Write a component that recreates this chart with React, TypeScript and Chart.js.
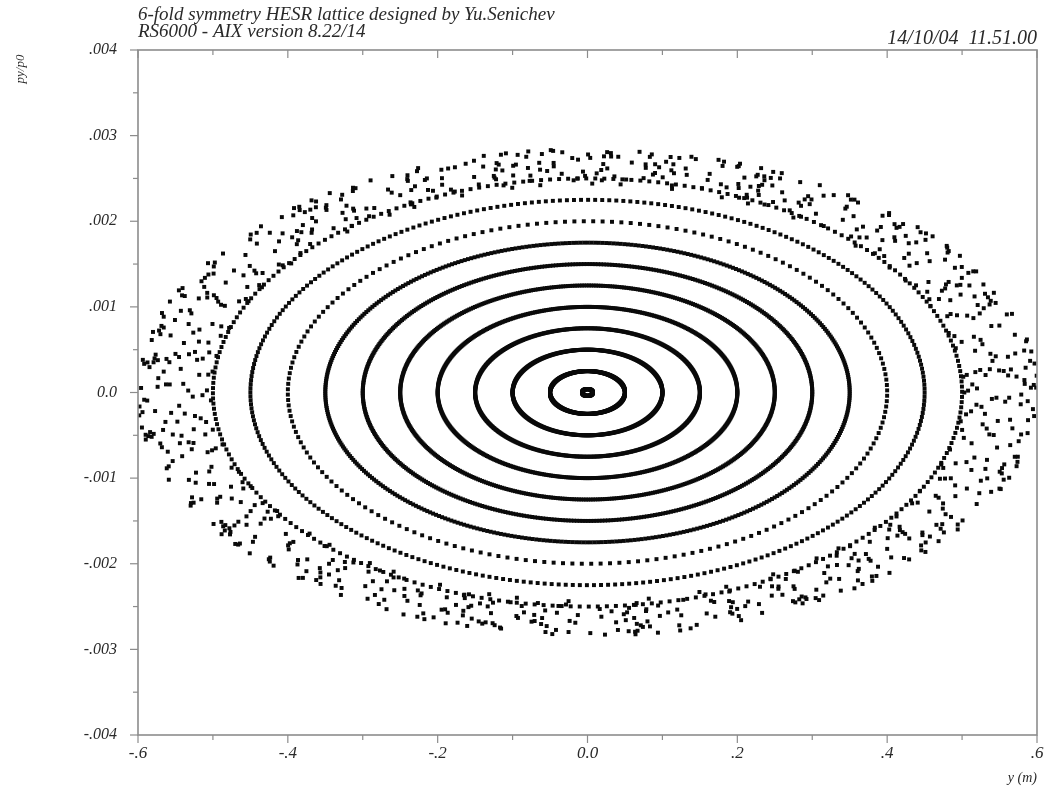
import React, { useEffect, useRef } from "react";
import { Chart, registerables } from "chart.js";

Chart.register(...registerables);

// ---- text ----
const titleLines = [
  "6-fold symmetry HESR lattice designed by Yu.Senichev",
  "RS6000 - AIX version 8.22/14",
];
const dateLabel = "14/10/04  11.51.00";
const xTitle = "y (m)";
const yTitle = "py/p0";

// ---- axes ----
const xMin = -0.6;
const xMax = 0.6;
const yMin = -0.004;
const yMax = 0.004;
const xMajorTicks = [-0.6, -0.4, -0.2, 0, 0.2, 0.4, 0.6];
const xTickLabels = ["-.6", "-.4", "-.2", "0.0", ".2", ".4", ".6"];
const xMinorTicks = [-0.5, -0.3, -0.1, 0.1, 0.3, 0.5];
const yMajorTicks = [0.004, 0.003, 0.002, 0.001, 0, -0.001, -0.002, -0.003, -0.004];
const yTickLabels = [".004", ".003", ".002", ".001", "0.0", "-.001", "-.002", "-.003", "-.004"];
const yMinorTicks = [0.0035, 0.0025, 0.0015, 0.0005, -0.0005, -0.0015, -0.0025, -0.0035];

// ---- data: regular orbits (semi-axes) ----
const ringYAmp = [0.007, 0.05, 0.1, 0.15, 0.2, 0.25, 0.3, 0.35, 0.4, 0.45, 0.5];
const ringPAmp = [0.00004, 0.00025, 0.0005, 0.00075, 0.001, 0.00125, 0.0015, 0.00175, 0.002, 0.00225, 0.0025];
const ringTurns = [120, 500, 500, 500, 500, 500, 500, 450, 200, 300, 260];

// ---- data: scattered outer orbits (amplitude, turns, tune) ----
const haloYAmp = [
  0.503, 0.508, 0.514, 0.52, 0.527, 0.533, 0.54, 0.546, 0.552, 0.558, 0.563,
  0.568, 0.574, 0.579, 0.584, 0.588, 0.592, 0.596, 0.599, 0.601,
];
const haloPAmp = [
  0.00244, 0.00248, 0.0025, 0.00253, 0.00256, 0.00258, 0.0026, 0.00262, 0.00265, 0.00267, 0.00269,
  0.0027, 0.00272, 0.00274, 0.00276, 0.00278, 0.0028, 0.00281, 0.00283, 0.00284,
];
const haloTurns = [50, 45, 40, 40, 45, 45, 50, 45, 45, 40, 40, 35, 35, 40, 45, 50, 50, 45, 45, 40];
const haloTune = [
  0.618, 0.4142, 0.732, 0.236, 0.5811, 0.3028, 0.8541, 0.1623, 0.4495, 0.6458,
  0.3166, 0.7913, 0.2071, 0.5486, 0.8822, 0.3722, 0.6904, 0.127, 0.5247, 0.916,
];

function ringPoints() {
  const pts: { x: number; y: number }[] = [];
  ringYAmp.forEach((a, i) => {
    const b = ringPAmp[i];
    const n = ringTurns[i];
    for (let k = 0; k < n; k++) {
      const th = (2 * Math.PI * k) / n + i * 0.3;
      pts.push({ x: a * Math.cos(th), y: b * Math.sin(th) });
    }
  });
  return pts;
}

function haloPoints() {
  const pts: { x: number; y: number }[] = [];
  haloYAmp.forEach((a, i) => {
    const b = haloPAmp[i];
    const n = haloTurns[i];
    const nu = haloTune[i];
    for (let k = 0; k < n; k++) {
      const f = (k * nu + i * 0.173) % 1;
      const th = 2 * Math.PI * f;
      pts.push({ x: a * Math.cos(th), y: b * Math.sin(th) });
    }
  });
  return pts;
}

const FONT = "'Liberation Serif', 'DejaVu Serif', serif";
const AXIS_COLOR = "#8c8c8c";
const TEXT_COLOR = "#2a2a2a";

const framePlugin = {
  id: "frame",
  afterDraw(chart: any) {
    const ctx = chart.ctx as CanvasRenderingContext2D;
    const { left, right, top, bottom } = chart.chartArea;
    const xs = chart.scales.x;
    const ys = chart.scales.y;
    ctx.save();
    ctx.strokeStyle = AXIS_COLOR;
    ctx.lineWidth = 1.6;
    ctx.strokeRect(left, top, right - left, bottom - top);
    ctx.lineWidth = 1.2;
    const tick = (x1: number, y1: number, x2: number, y2: number) => {
      ctx.beginPath();
      ctx.moveTo(x1, y1);
      ctx.lineTo(x2, y2);
      ctx.stroke();
    };
    xMajorTicks.forEach((v) => {
      const px = xs.getPixelForValue(v);
      tick(px, bottom, px, bottom + 8);
      tick(px, top, px, top + 8);
    });
    xMinorTicks.forEach((v) => {
      const px = xs.getPixelForValue(v);
      tick(px, bottom, px, bottom + 5);
      tick(px, top, px, top + 5);
    });
    yMajorTicks.forEach((v) => {
      const py = ys.getPixelForValue(v);
      tick(left - 8, py, left, py);
    });
    yMinorTicks.forEach((v) => {
      const py = ys.getPixelForValue(v);
      tick(left - 5, py, left, py);
    });

    ctx.fillStyle = TEXT_COLOR;
    ctx.font = `italic 19px ${FONT}`;
    ctx.textAlign = "left";
    ctx.textBaseline = "alphabetic";
    ctx.fillText(titleLines[0], left, 20);
    ctx.fillText(titleLines[1], left, 37);
    ctx.textAlign = "right";
    ctx.font = `italic 20px ${FONT}`;
    ctx.fillText(dateLabel, right, 44);
    ctx.font = `italic 14px ${FONT}`;
    ctx.fillText(xTitle, right, 782);

    ctx.save();
    ctx.translate(21, 69);
    ctx.rotate(-Math.PI / 2);
    ctx.textAlign = "center";
    ctx.textBaseline = "middle";
    ctx.font = `italic 13px ${FONT}`;
    ctx.fillText(yTitle, 0, 0);
    ctx.restore();
    ctx.restore();
  },
};

function labelFor(v: number, vals: number[], labels: string[]) {
  for (let i = 0; i < vals.length; i++) {
    if (Math.abs(vals[i] - v) < 1e-9) return labels[i];
  }
  return "";
}

export default function App() {
  const ref = useRef<HTMLCanvasElement | null>(null);
  useEffect(() => {
    if (!ref.current) return;
    const chart = new Chart(ref.current, {
      type: "scatter",
      data: {
        datasets: [
          {
            data: ringPoints(),
            pointStyle: "rect",
            pointRadius: 2.8,
            backgroundColor: "#0a0a0a",
            borderWidth: 0,
          },
          {
            data: haloPoints(),
            pointStyle: "rect",
            pointRadius: 2.8,
            backgroundColor: "#0a0a0a",
            borderWidth: 0,
          },
        ],
      },
      options: {
        animation: false,
        responsive: false,
        events: [],
        layout: { padding: { left: 0, top: 50, right: 9, bottom: 0 } },
        plugins: { legend: { display: false }, tooltip: { enabled: false }, title: { display: false } },
        scales: {
          x: {
            type: "linear",
            min: xMin,
            max: xMax,
            afterBuildTicks: (s: any) => {
              s.ticks = xMajorTicks.map((v) => ({ value: v }));
            },
            afterFit: (s: any) => {
              s.height = 55;
              s.paddingLeft = 0;
              s.paddingRight = 0;
            },
            grid: { display: false, drawTicks: false },
            border: { display: false },
            ticks: {
              padding: 8,
              color: TEXT_COLOR,
              font: { family: FONT, style: "italic", size: 17 },
              maxRotation: 0,
              autoSkip: false,
              callback: (v: any) => labelFor(Number(v), xMajorTicks, xTickLabels),
            },
          },
          y: {
            type: "linear",
            min: yMin,
            max: yMax,
            afterBuildTicks: (s: any) => {
              s.ticks = yMajorTicks.map((v) => ({ value: v }));
            },
            afterFit: (s: any) => {
              s.width = 138;
              s.paddingTop = 0;
              s.paddingBottom = 0;
            },
            grid: { display: false, drawTicks: false },
            border: { display: false },
            ticks: {
              padding: 21,
              color: TEXT_COLOR,
              font: { family: FONT, style: "italic", size: 16 },
              autoSkip: false,
              callback: (v: any) => labelFor(Number(v), yMajorTicks, yTickLabels),
            },
          },
        },
      },
      plugins: [framePlugin],
    } as any);
    return () => chart.destroy();
  }, []);
  return (
    <div style={{ position: "fixed", left: 0, top: 0, width: 1046, height: 790, background: "#fff" }}>
      <canvas ref={ref} width={1046} height={790} style={{ width: 1046, height: 790, display: "block" }} />
    </div>
  );
}
